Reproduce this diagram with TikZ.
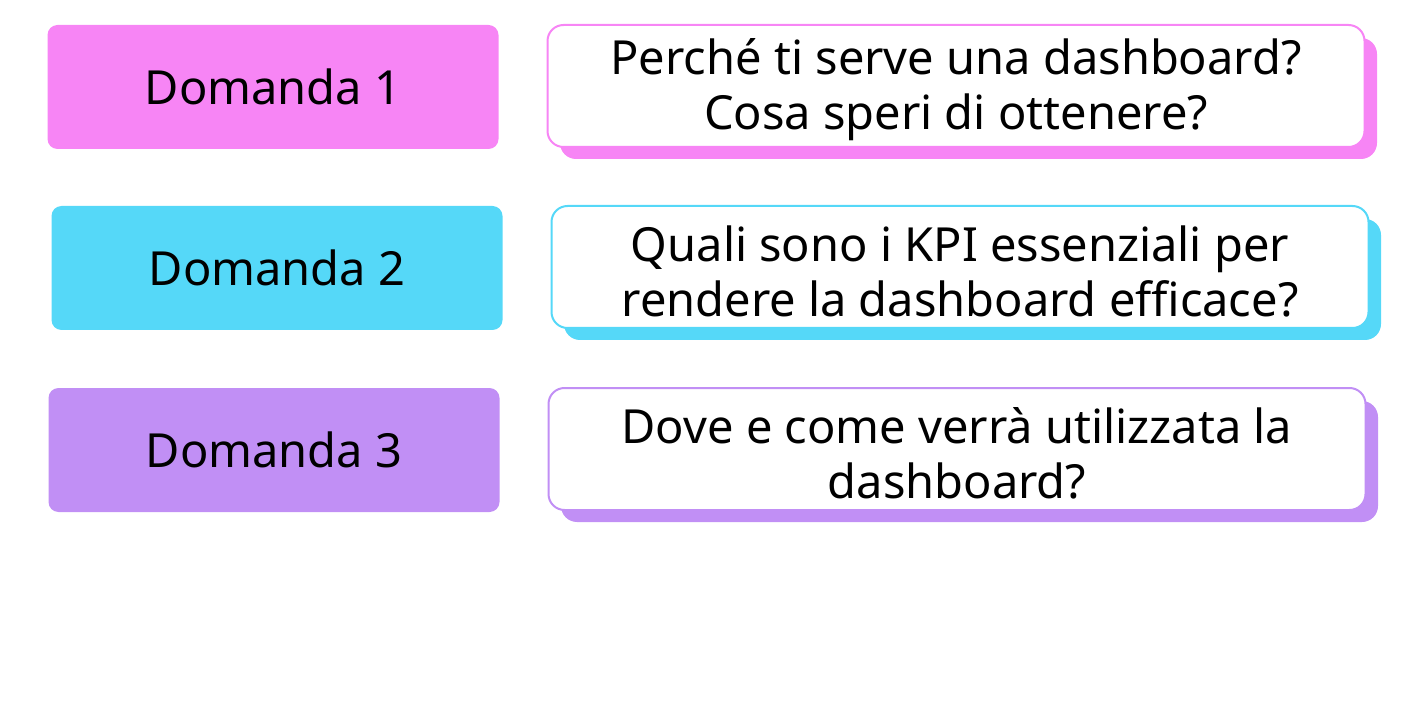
\documentclass[tikz,border=0pt]{standalone}
\usepackage{fontspec}
\setmainfont{Noto Sans}
\definecolor{rosa}{HTML}{F785F5}
\definecolor{azzurro}{HTML}{55D8F8}
\definecolor{viola}{HTML}{C18FF5}
\begin{document}
\begin{tikzpicture}[x=1pt,y=-1pt,
    domanda/.style={rounded corners=10pt,fill=#1,minimum width=451pt,minimum height=124pt,
      font=\fontsize{47}{56}\selectfont},
    risposta/.style={rounded corners=16pt,fill=white,draw=#1,line width=2pt,minimum width=817pt,
      minimum height=122pt,align=center,inner sep=0pt,font=\fontsize{47}{55}\selectfont}]
  \useasboundingbox (0,0) rectangle (1422,727);
  \foreach \n/\c/\dx/\y/\testo in {
      1/rosa/0/87/{Perché ti serve una dashboard?\\Cosa speri di ottenere?},
      2/azzurro/4/268/{Quali sono i KPI essenziali per\\rendere la dashboard efficace?},
      3/viola/1/450/{Dove e come verrà utilizzata la\\dashboard?}} {
    \node[domanda=\c] (d\n) at (273+\dx,\y) {Domanda \n};
    \fill[\c] (560+\dx,\y-49) [rounded corners=16pt] rectangle (1377+\dx,\y+72);
    \node[risposta=\c] (r\n) at (956+\dx,\y-1) {};
    \node[align=center,font=\fontsize{47}{55}\selectfont] (t\n) at ([yshift=-4pt]r\n.center) {\testo};
  }
\end{tikzpicture}
\end{document}
